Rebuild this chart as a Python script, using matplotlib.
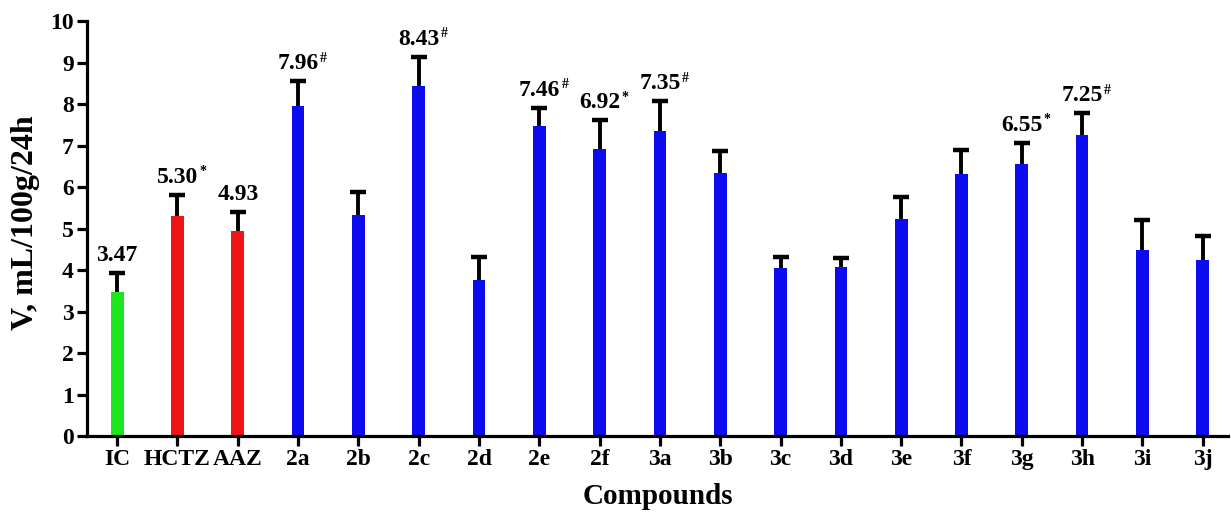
import matplotlib
matplotlib.use("Agg")
import matplotlib.pyplot as plt
import numpy as np

categories = ["IC", "HCTZ", "AAZ", "2a", "2b", "2c", "2d", "2e", "2f", "3a",
              "3b", "3c", "3d", "3e", "3f", "3g", "3h", "3i", "3j"]
values = [3.47, 5.30, 4.93, 7.96, 5.32, 8.43, 3.76, 7.46, 6.92, 7.35,
          6.33, 4.05, 4.07, 5.23, 6.31, 6.55, 7.25, 4.48, 4.24]
errors = [0.45, 0.52, 0.47, 0.59, 0.56, 0.71, 0.55, 0.45, 0.69, 0.72,
          0.54, 0.27, 0.23, 0.53, 0.58, 0.52, 0.53, 0.72, 0.58]
bar_colors = ["#1ee61e", "#f01414", "#f01414"] + ["#0c0cee"] * 16
labels = ["3.47", "5.30", "4.93", "7.96", "", "8.43", "", "7.46", "6.92", "7.35",
          "", "", "", "", "", "6.55", "7.25", "", ""]
marks = ["", "*", "", "#", "", "#", "", "#", "*", "#",
         "", "", "", "", "", "*", "#", "", ""]

plt.rcParams["font.family"] = ["Liberation Serif", "DejaVu Serif"]
plt.rcParams["font.weight"] = "bold"

fig = plt.figure(figsize=(12.31, 5.15), dpi=100)
ax = fig.add_axes([0.0707, 0.1534, 0.9269, 0.8056])

x = np.arange(len(categories))
ax.bar(x, values, width=0.21, color=bar_colors, zorder=2)
_, caps, _ = ax.errorbar(x, values, yerr=[np.zeros(len(errors)), errors], fmt="none",
                         ecolor="black", elinewidth=2.8, capsize=6, capthick=3.2, zorder=3)
if len(caps) == 2:
    caps[0].set_visible(False)

for xi, v, e, lab, mk in zip(x, values, errors, labels, marks):
    if not lab:
        continue
    t = ax.annotate(lab, xy=(xi, v + e), xytext=(0, 5), textcoords="offset points",
                    ha="center", va="bottom", fontsize=17, fontweight="bold")
    if mk:
        ax.annotate(mk, xy=(1.0, 1.0), xycoords=t, xytext=(1, 1),
                    textcoords="offset points", ha="left", va="top",
                    fontsize=10, fontweight="bold")

ax.set_xlim(-0.5, 18.42)
ax.set_ylim(0, 10)
ax.set_yticks(range(0, 11))
ax.set_xticks(x)
ax.set_xticklabels(categories)
for s in ["top", "right"]:
    ax.spines[s].set_visible(False)
for s in ["left", "bottom"]:
    ax.spines[s].set_linewidth(2.3)
ax.tick_params(axis="both", width=2.3, length=7.5, labelsize=17)
ax.tick_params(axis="x", pad=2)
ax.tick_params(axis="y", pad=2)
for lbl in ax.get_xticklabels() + ax.get_yticklabels():
    lbl.set_fontweight("bold")

ax.set_ylabel("V, mL/100g/24h", fontsize=23, fontweight="bold", va="center")
ax.yaxis.set_label_coords(-0.054, 0.515)
ax.set_xlabel("Compounds", fontsize=21, fontweight="bold", va="center")
ax.xaxis.set_label_coords(0.5, -0.147)

fig.savefig("out.png", dpi=100)
